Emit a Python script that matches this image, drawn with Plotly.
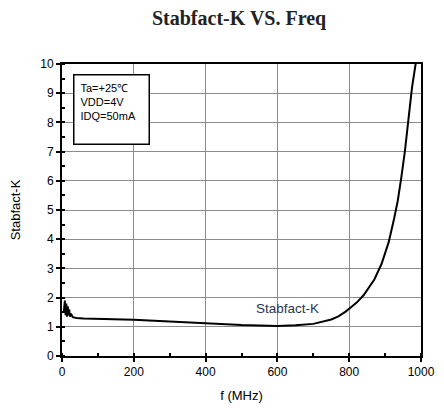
import plotly.graph_objects as go

# Frequency (MHz) and stability factor K
freq_mhz = [5, 8, 10, 12, 14, 16, 18, 20, 22, 25, 30, 40, 60, 100, 150, 200,
            300, 400, 500, 600, 650, 700, 750, 770, 790, 810, 820, 840, 850,
            870, 890, 910, 925, 935, 945, 955, 965, 975, 985, 990]
stab_k = [1.5, 1.9, 1.4, 1.8, 1.35, 1.7, 1.4, 1.6, 1.35, 1.45, 1.33, 1.3, 1.28,
          1.27, 1.26, 1.24, 1.18, 1.11, 1.06, 1.03, 1.05, 1.1, 1.25, 1.36,
          1.52, 1.72, 1.82, 2.08, 2.25, 2.62, 3.15, 3.9, 4.7, 5.3, 6.1, 7.0,
          8.1, 9.2, 10.0, 10.4]

conditions = ["Ta=+25℃", "VDD=4V", "IDQ=50mA"]
curve_label = "Stabfact-K"

fig = go.Figure()
fig.add_trace(go.Scatter(
    x=freq_mhz, y=stab_k, mode="lines",
    line=dict(color="black", width=2),
    showlegend=False,
))

# Test conditions box
fig.add_annotation(
    xref="paper", yref="paper", x=0.03, y=0.965, xanchor="left", yanchor="top",
    text="<br>".join(conditions), align="left", valign="top", showarrow=False,
    width=62, height=56,
    font=dict(family="Arial, Liberation Sans", size=11, color="black"),
    bordercolor="black", borderwidth=1.5, borderpad=6, bgcolor="white",
)
# Curve label
fig.add_annotation(
    x=628, y=1.64, text=curve_label, showarrow=False,
    font=dict(family="Arial, Liberation Sans", size=13.5, color="#2b3550"),
)

axis_common = dict(
    showgrid=True, gridcolor="#8c8c8c", gridwidth=1.2, griddash="solid",
    showline=True, linecolor="black", linewidth=2, mirror=True,
    ticks="outside", ticklen=4, tickcolor="black", tickwidth=1.5,
    tickfont=dict(family="Arial, Liberation Sans", size=12, color="black"),
    zeroline=False, automargin=False,
)

fig.update_xaxes(
    range=[0, 1000], dtick=200, tick0=0,
    minor=dict(dtick=100, ticks="inside", ticklen=3, tickcolor="black",
               tickwidth=1.5, showgrid=False),
    title=dict(text="f (MHz)", standoff=12,
               font=dict(family="Arial, Liberation Sans", size=13, color="black")),
    **axis_common,
)
fig.update_yaxes(
    range=[0, 10], dtick=1, tick0=0,
    minor=dict(dtick=0.5, ticks="inside", ticklen=3, tickcolor="black",
               tickwidth=1.5, showgrid=False),
    title=dict(text="Stabfact-K", standoff=22,
               font=dict(family="Arial, Liberation Sans", size=13, color="black")),
    **axis_common,
)

# page body adds an 8px margin; right margin is widened so "1000" is not clipped
fig.update_layout(
    template="none",
    width=436, height=398,
    margin=dict(l=54, r=23, t=56, b=50),
    paper_bgcolor="white", plot_bgcolor="white",
    title=dict(text="<b>Stabfact-K VS. Freq</b>", x=0.53, xanchor="center",
               y=0.975, yanchor="middle",
               font=dict(family="Liberation Serif, Times New Roman", size=20, color="#222")),
)

fig.write_html("out.html")
